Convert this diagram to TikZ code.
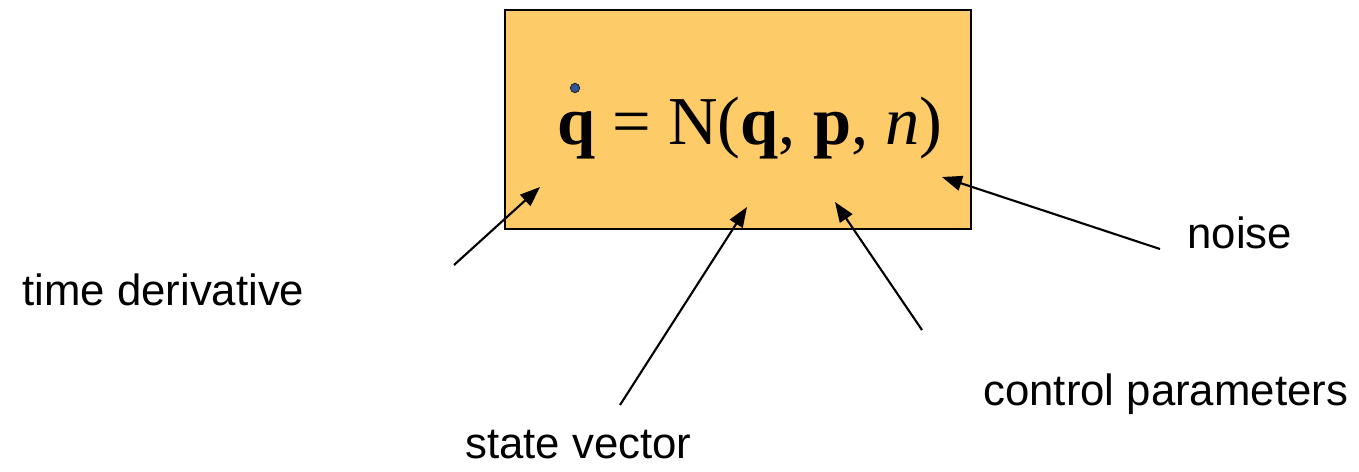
\documentclass[tikz,border=0pt]{standalone}
\usepackage{fontspec}
\setmainfont{Liberation Serif}
\newfontfamily\labelfont{Liberation Sans}
\usetikzlibrary{arrows.meta}
\definecolor{boxorange}{HTML}{FDCB67}
\definecolor{dotblue}{HTML}{2F5597}
\tikzset{
    lbl/.style={anchor=base west, inner sep=0pt, font=\labelfont\fontsize{24.9}{30}\selectfont},
    pointer/.style={line width=1.2pt, -{Triangle[length=0.4cm, width=0.3cm]}}
}
\begin{document}
\begin{tikzpicture}[x=0.02cm, y=-0.02cm]
    \useasboundingbox (0,0) rectangle (1359,471);

    % 方框和公式
    \draw[line width=1.1pt, fill=boxorange] (505,10) rectangle (971,229);
    \node[anchor=base west, inner sep=0pt, font=\fontsize{39}{46}\selectfont] (eq) at (557,144)
        {\textbf{q} = N(\textbf{q}, \textbf{p}, \textit{n})};
    \filldraw[fill=dotblue, draw=black, line width=0.3pt] (575,88) circle (0.095cm);

    % 标签
    \node[lbl] (tderiv) at (22,305) {time derivative};
    \node[lbl] (svec) at (465,458) {state vector};
    \node[lbl] (cparam) at (983,405) {control parameters};
    \node[lbl] (noiselbl) at (1187,248) {noise};

    % 箭头的起点和终点
    \coordinate (tderivtail) at (454,265);
    \coordinate (tderivtip) at (540,187);
    \coordinate (svectail) at (620,405);
    \coordinate (svectip) at (747,207);
    \coordinate (cparamtail) at (922,330);
    \coordinate (cparamtip) at (835,202);
    \coordinate (noisetail) at (1160,249);
    \coordinate (noisetip) at (942,177);

    % 箭头
    \draw[pointer] (tderivtail) -- (tderivtip);
    \draw[pointer] (svectail) -- (svectip);
    \draw[pointer] (cparamtail) -- (cparamtip);
    \draw[pointer] (noisetail) -- (noisetip);
\end{tikzpicture}
\end{document}
